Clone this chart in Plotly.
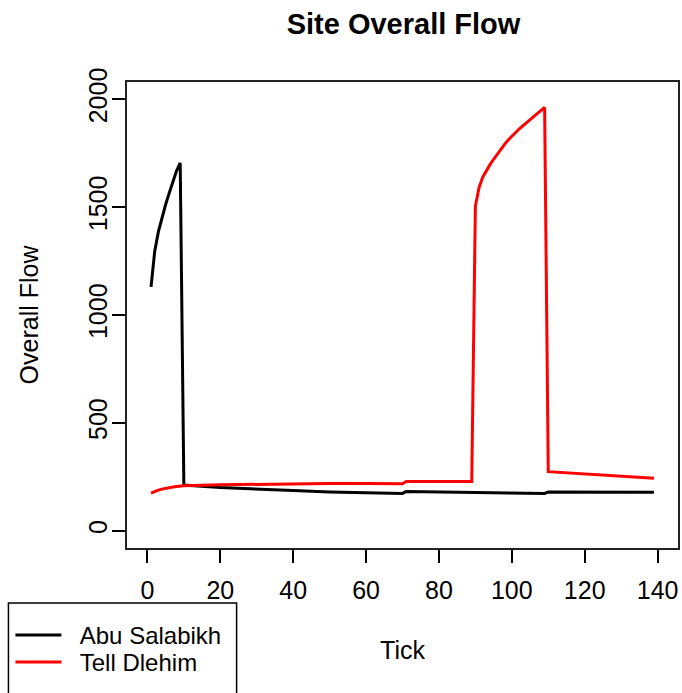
import plotly.graph_objects as go

# Abu Salabikh (black)
abu_x = [1, 2, 3, 4, 5, 6, 7, 8, 9, 10, 20, 30, 40, 50, 60, 70, 71, 80, 90, 100, 109, 110, 120, 130, 139]
abu_y = [1130, 1295, 1385, 1455, 1512, 1566, 1620, 1668, 1705, 212, 200, 192, 186, 180, 176, 173, 182, 180, 177, 175, 173, 180, 179, 178, 178]

# Tell Dlehim (red)
tell_x = [1, 2, 3, 4, 5, 6, 7, 8, 9, 10, 20, 30, 40, 50, 60, 70, 71, 89,
          90, 91, 92, 93, 94, 95, 96, 97, 98, 99, 100, 101, 102, 103, 104, 105, 106, 107, 108, 109,
          110, 120, 130, 139]
tell_y = [174, 182, 188, 193, 197, 200, 203, 205, 207, 209, 213, 216, 218, 219, 219, 218, 228, 228,
          1505, 1590, 1638, 1670, 1697, 1722, 1746, 1769, 1791, 1811, 1829, 1846, 1862, 1877, 1891, 1905, 1919, 1932, 1946, 1962,
          274, 264, 253, 243]

x_ticks = [0, 20, 40, 60, 80, 100, 120, 140]
y_ticks = [0, 500, 1000, 1500, 2000]

FONT = "Liberation Sans, Arial, sans-serif"
PAD = "\u00a0\u00a0"

fig = go.Figure()
fig.add_trace(go.Scatter(x=abu_x, y=abu_y, mode="lines", name=PAD + "Abu Salabikh",
                         line=dict(color="black", width=3), legend="legend"))
fig.add_trace(go.Scatter(x=tell_x, y=tell_y, mode="lines", name=PAD + "Tell Dlehim",
                         line=dict(color="red", width=3), legend="legend2"))

leg_common = dict(xanchor="left", yanchor="top", bgcolor="rgba(0,0,0,0)", borderwidth=0,
                  font=dict(size=24), itemwidth=46)

fig.update_layout(
    width=682, height=693,
    margin=dict(l=127, r=2, t=82, b=145),
    paper_bgcolor="white", plot_bgcolor="white",
    font=dict(family=FONT, size=25, color="black"),
    title=dict(text="<b>Site Overall Flow</b>", x=403.5 / 682, xanchor="center",
               y=1 - 24 / 693, yanchor="middle", font=dict(size=29)),
    xaxis=dict(range=[-5.6, 145.6], tickvals=x_ticks, ticks="outside", ticklen=13,
               tickwidth=2, tickcolor="black", showline=True, linecolor="#222",
               linewidth=2, mirror=True, showgrid=False, zeroline=False,
               ticklabelstandoff=6,
               title=dict(text="Tick", standoff=38, font=dict(size=25))),
    yaxis=dict(range=[-80, 2080], tickvals=y_ticks, ticks="outside", ticklen=13,
               tickwidth=2, tickcolor="black", showline=True, linecolor="#222",
               linewidth=2, mirror=True, showgrid=False, zeroline=False,
               tickangle=-90, ticklabelstandoff=-5,
               title=dict(text="Overall Flow", standoff=38, font=dict(size=25))),
    legend=dict(x=(10 - 127) / 553, y=(548 - 613) / 466, **leg_common),
    legend2=dict(x=(10 - 127) / 553, y=(548 - 640) / 466, **leg_common),
    showlegend=True,
    shapes=[dict(type="rect", xref="paper", yref="paper",
                 x0=(8 - 127) / 553, x1=(237 - 127) / 553,
                 y0=(548 - 603) / 466, y1=(548 - 720) / 466,
                 line=dict(color="black", width=1.5), fillcolor="rgba(0,0,0,0)")],
)

fig.write_html("out.html")
